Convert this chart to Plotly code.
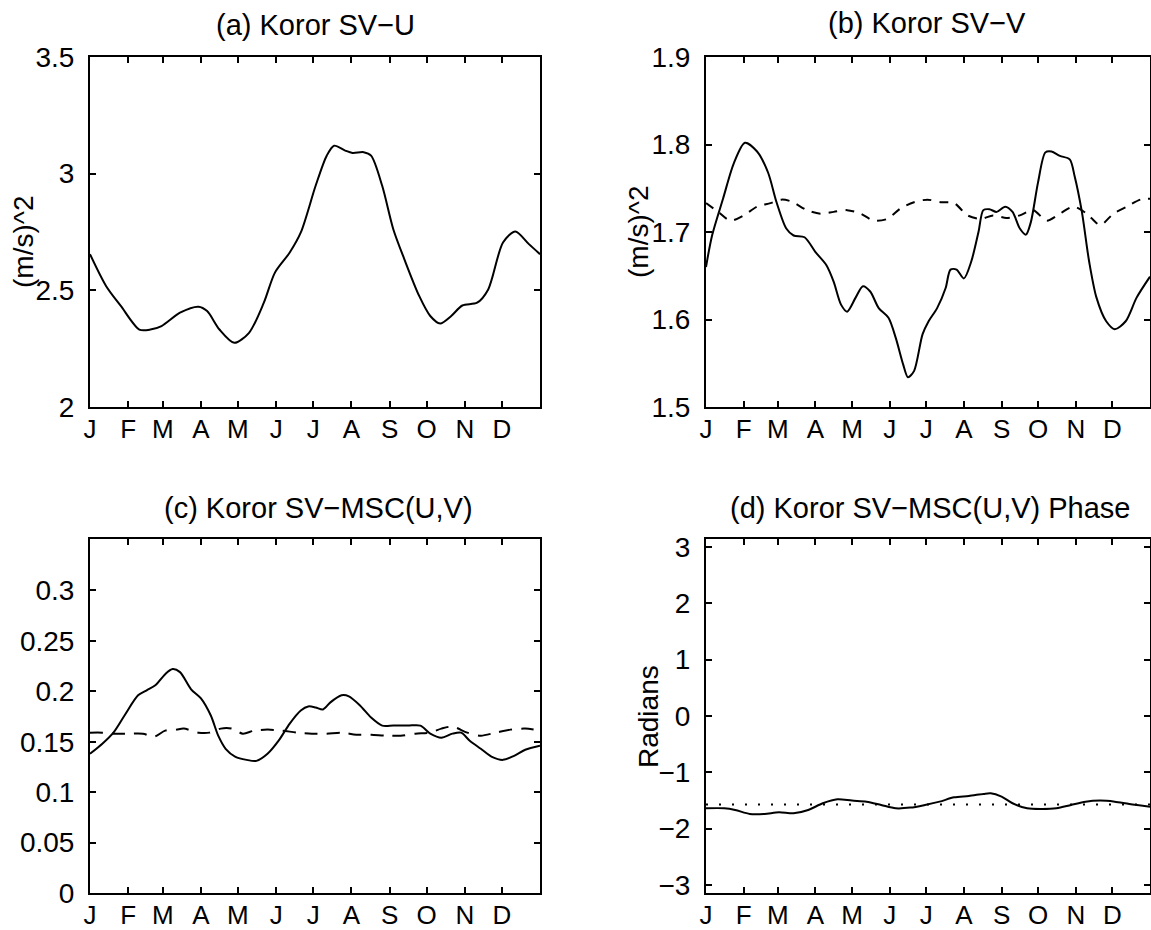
import plotly.graph_objects as go
import math

# ---------------- data (day of year) ----------------
month_days = [0, 31, 59, 90, 120, 151, 181, 212, 243, 273, 304, 334]
month_labels = ["J", "F", "M", "A", "M", "J", "J", "A", "S", "O", "N", "D"]

# (a) SV-U
a_day = [0, 13, 25, 40, 49, 58, 73, 88, 95, 105, 117, 129, 141, 150, 162, 171, 183, 192, 198,
         207, 213, 222, 228, 237, 246, 255, 267, 276, 284, 293, 302, 314, 323, 335, 345, 356, 365]
a_val = [2.655, 2.519, 2.433, 2.332, 2.332, 2.347, 2.404, 2.430, 2.411, 2.332, 2.275, 2.318, 2.447,
         2.576, 2.662, 2.748, 2.948, 3.077, 3.120, 3.099, 3.089, 3.092, 3.077, 2.948, 2.762, 2.633,
         2.476, 2.390, 2.358, 2.390, 2.435, 2.447, 2.504, 2.705, 2.752, 2.698, 2.655]

# (b) SV-V solid
b_day = [0, 5, 14, 23, 32, 42, 51, 58, 66, 72, 81, 90, 99, 105, 111, 116, 123, 129, 135, 142, 150,
         156, 162, 166, 171, 178, 183, 190, 197, 201, 206, 212, 218, 224, 228, 233, 239, 246, 252,
         258, 263, 267, 273, 279, 284, 291, 299, 303, 309, 315, 321, 329, 336, 345, 354, 365]
b_val = [1.660, 1.696, 1.738, 1.779, 1.802, 1.792, 1.768, 1.734, 1.704, 1.696, 1.694, 1.677, 1.662,
         1.643, 1.617, 1.609, 1.625, 1.638, 1.632, 1.613, 1.602, 1.579, 1.549, 1.534, 1.541, 1.583,
         1.598, 1.613, 1.636, 1.657, 1.657, 1.647, 1.666, 1.700, 1.725, 1.726, 1.723, 1.729, 1.723,
         1.704, 1.697, 1.711, 1.757, 1.791, 1.792, 1.787, 1.783, 1.764, 1.723, 1.666, 1.625, 1.598,
         1.589, 1.598, 1.625, 1.649]

# (b) SV-V dashed
bd_day = [0, 10, 20, 31, 42, 53, 62, 70, 83, 94, 105, 116, 127, 138, 149, 160, 171, 182, 193, 204,
          215, 226, 236, 247, 258, 269, 280, 291, 302, 313, 324, 335, 346, 357, 365]
bd_val = [1.733, 1.723, 1.713, 1.719, 1.729, 1.733, 1.737, 1.735, 1.725, 1.721, 1.723, 1.725, 1.721,
          1.713, 1.715, 1.727, 1.734, 1.737, 1.734, 1.733, 1.719, 1.715, 1.719, 1.716, 1.719, 1.725,
          1.713, 1.721, 1.729, 1.721, 1.708, 1.721, 1.729, 1.737, 1.738]

# (c) MSC solid
c_day = [0, 10, 19, 28, 39, 46, 53, 61, 67, 73, 82, 90, 98, 104, 110, 118, 127, 135, 144, 153, 162,
         171, 177, 183, 189, 195, 204, 210, 219, 228, 237, 246, 258, 268, 276, 285, 294, 301, 308,
         317, 326, 335, 344, 353, 365]
c_val = [0.138, 0.148, 0.159, 0.176, 0.196, 0.201, 0.206, 0.217, 0.222, 0.219, 0.202, 0.193, 0.176,
         0.156, 0.143, 0.135, 0.132, 0.131, 0.138, 0.151, 0.168, 0.181, 0.185, 0.184, 0.182, 0.189,
         0.196, 0.195, 0.186, 0.174, 0.166, 0.166, 0.166, 0.166, 0.158, 0.154, 0.158, 0.159, 0.151,
         0.143, 0.135, 0.132, 0.136, 0.142, 0.146]

# (c) MSC dashed
cd_day = [0, 10, 19, 31, 43, 52, 61, 70, 76, 88, 97, 106, 115, 124, 133, 144, 156, 168, 180, 192,
          204, 216, 228, 240, 252, 264, 276, 285, 294, 306, 317, 329, 341, 353, 365]
cd_val = [0.159, 0.159, 0.158, 0.158, 0.158, 0.155, 0.161, 0.162, 0.163, 0.159, 0.159, 0.163, 0.163,
          0.158, 0.161, 0.162, 0.161, 0.159, 0.158, 0.158, 0.159, 0.157, 0.157, 0.156, 0.156, 0.158,
          0.159, 0.163, 0.165, 0.159, 0.156, 0.159, 0.162, 0.163, 0.161]

# (d) phase solid
d_day = [0, 15, 24, 36, 48, 60, 72, 84, 96, 108, 120, 132, 144, 156, 168, 180, 192, 204, 216, 228,
         234, 243, 252, 264, 276, 288, 300, 312, 324, 336, 348, 365]
d_val = [-1.638, -1.638, -1.668, -1.739, -1.739, -1.709, -1.727, -1.668, -1.549, -1.478, -1.502,
         -1.520, -1.579, -1.638, -1.626, -1.579, -1.520, -1.443, -1.419, -1.383, -1.371, -1.431,
         -1.549, -1.638, -1.650, -1.638, -1.579, -1.520, -1.502, -1.520, -1.561, -1.609]

# (d) reference dotted line
dd_day = [0, 365]
dd_val = [-math.pi / 2, -math.pi / 2]

# ---------------- figure ----------------
W, H = 1151, 930
FONT = "Liberation Sans, Arial, Helvetica, sans-serif"
FS = 28
FS_X = 26
FS_T = 29

def px_x(p):
    return p / W

def px_y(p):
    return 1 - p / H

fig = go.Figure()

def add_line(x, y, ax, dash="solid"):
    fig.add_trace(go.Scatter(
        x=x, y=y, mode="lines", xaxis="x" + ax, yaxis="y" + ax,
        line=dict(color="black", width=2, dash=dash, shape="spline", smoothing=0.8),
        showlegend=False, hoverinfo="skip"))

add_line(a_day, a_val, "")
add_line(b_day, b_val, "2")
add_line(bd_day, bd_val, "2", dash="9px,8px")
add_line(c_day, c_val, "3")
add_line(cd_day, cd_val, "3", dash="13px,9px")
add_line(d_day, d_val, "4")
fig.add_trace(go.Scatter(x=dd_day, y=dd_val, mode="lines", xaxis="x4", yaxis="y4",
                         line=dict(color="black", width=2, dash="2px,11px"),
                         showlegend=False, hoverinfo="skip"))

left_x = [px_x(90), px_x(540)]
right_x = [px_x(706), px_x(1150)]
top_y = [px_y(407), px_y(57)]
bot_y = [px_y(893), px_y(539)]

common_ax = dict(showline=True, linecolor="black", linewidth=2, mirror="ticks",
                 ticks="inside", ticklen=6, tickwidth=1.5, tickcolor="black",
                 showgrid=False, zeroline=False, automargin=False)

def xax(domain, anchor):
    return dict(common_ax, domain=domain, anchor=anchor, range=[0, 365],
                tickmode="array", tickvals=month_days, ticktext=month_labels,
                tickfont=dict(family=FONT, size=FS_X, color="black"),
                ticklabelstandoff=-2)

def yax(domain, anchor, rng, vals, texts):
    return dict(common_ax, domain=domain, anchor=anchor, range=rng,
                tickmode="array", tickvals=vals, ticktext=texts,
                tickfont=dict(family=FONT, size=FS, color="black"),
                ticklabelstandoff=8)

fig.update_layout(
    width=W, height=H,
    margin=dict(l=0, r=0, t=0, b=0, autoexpand=False),
    paper_bgcolor="white", plot_bgcolor="white",
    xaxis=xax(left_x, "y"),
    yaxis=yax(top_y, "x", [2, 3.5], [2, 2.5, 3, 3.5], ["2", "2.5", "3", "3.5"]),
    xaxis2=xax(right_x, "y2"),
    yaxis2=yax(top_y, "x2", [1.5, 1.9], [1.5, 1.6, 1.7, 1.8, 1.9],
               ["1.5", "1.6", "1.7", "1.8", "1.9"]),
    xaxis3=xax(left_x, "y3"),
    yaxis3=yax(bot_y, "x3", [0, 0.351], [0, 0.05, 0.1, 0.15, 0.2, 0.25, 0.3],
               ["0", "0.05", "0.1", "0.15", "0.2", "0.25", "0.3"]),
    xaxis4=xax(right_x, "y4"),
    yaxis4=yax(bot_y, "x4", [-math.pi, math.pi], [-3, -2, -1, 0, 1, 2, 3],
               ["\u22123", "\u22122", "\u22121", "0", "1", "2", "3"]),
)

def text(x, y, s, angle=0, size=FS):
    fig.add_annotation(x=px_x(x), y=px_y(y), xref="paper", yref="paper",
                       text=s, showarrow=False, textangle=angle,
                       xanchor="center", yanchor="middle",
                       font=dict(family=FONT, size=size, color="black"))

text(315, 25, "(a) Koror SV\u2212U", size=FS_T)
text(927, 23, "(b) Koror SV\u2212V", size=FS_T)
text(318, 508, "(c) Koror SV\u2212MSC(U,V)", size=FS_T)
text(930, 508, "(d) Koror SV\u2212MSC(U,V) Phase", size=FS_T)
text(23, 242, "(m/s)^2", angle=-90)
text(638, 232, "(m/s)^2", angle=-90)
text(648, 717, "Radians", angle=-90)

fig.write_html("out.html")
